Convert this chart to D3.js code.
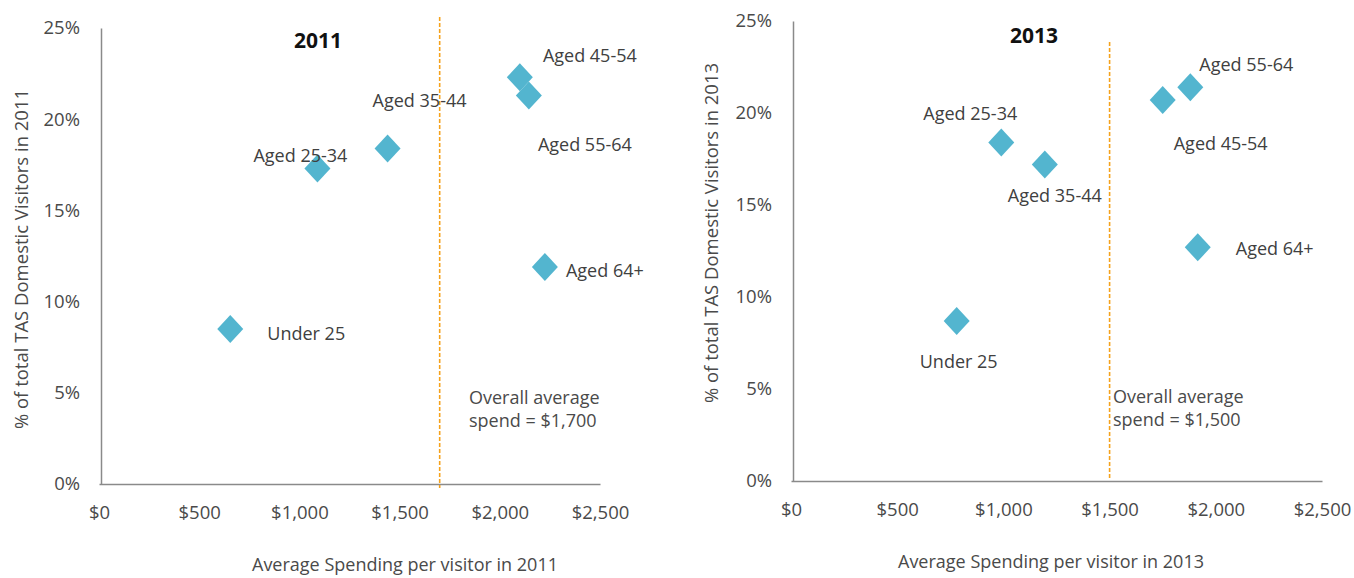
<!DOCTYPE html>
<html>
<head>
<meta charset="utf-8">
<script src="https://cdn.jsdelivr.net/npm/d3@7"></script>
<style>
  body { margin: 0; background: #fff; }
  svg text { font-family: "Open Sans", sans-serif; }
</style>
</head>
<body>
<svg id="chart" width="1354" height="578"></svg>
<script>
// Visitor segments (age groups)
const categories = ["Under 25", "Aged 25-34", "Aged 35-44", "Aged 45-54", "Aged 55-64", "Aged 64+"];

// 2011: average spend per visitor ($) and share of total TAS domestic visitors (%)
const spend2011 = [655, 1090, 1440, 2100, 2145, 2225];
const share2011 = [8.5, 17.3, 18.4, 22.3, 21.3, 11.9];
const average2011 = 1700;

// 2013
const spend2013 = [780, 990, 1195, 1750, 1880, 1915];
const share2013 = [8.7, 18.4, 17.2, 20.7, 21.4, 12.7];
const average2013 = 1500;

// Axis ticks
const xTickValues = [0, 500, 1000, 1500, 2000, 2500];
const xTickLabels = ["$0", "$500", "$1,000", "$1,500", "$2,000", "$2,500"];
const yTickValues = [0, 5, 10, 15, 20, 25];
const yTickLabels = ["0%", "5%", "10%", "15%", "20%", "25%"];

// Panel layouts (pixel frames and label placement around each marker)
const panels = [
  {
    year: "2011", spend: spend2011, share: share2011, average: average2011,
    x0: 99, x1: 600, y0: 484, y1: 28,
    titleX: 318, titleY: 40,
    yTitleX: 20, yTitleY: 259,
    xTitleX: 405, xTitleY: 564,
    avgTop: 17, avgBottom: 488, avgTextX: 469, avgTextY: 397,
    labelOffsets: [[76, 4], [-17, -13], [32, -48], [70, -22], [56, 49], [60, 3]]
  },
  {
    year: "2013", spend: spend2013, share: share2013, average: average2013,
    x0: 791, x1: 1322, y0: 481, y1: 21,
    titleX: 1034, titleY: 35,
    yTitleX: 710, yTitleY: 233,
    xTitleX: 1051, xTitleY: 561,
    avgTop: 42, avgBottom: 478, avgTextX: 1113, avgTextY: 396,
    labelOffsets: [[2, 40], [-31, -29], [10, 30], [58, 43], [56, -23], [77, 1]]
  }
];

const svg = d3.select("#chart");
const diamond = "M0,-14L13,0L0,14L-13,0Z";
const textColor = "#4a4a4a";

panels.forEach(p => {
  const x = d3.scaleLinear().domain([0, 2500]).range([p.x0, p.x1]);
  const y = d3.scaleLinear().domain([0, 25]).range([p.y0, p.y1]);
  const g = svg.append("g");

  // X axis
  const xAxis = d3.axisBottom(x)
    .tickValues(xTickValues)
    .tickFormat((d, i) => xTickLabels[i])
    .tickSize(0)
    .tickPadding(22);
  const gx = g.append("g").attr("transform", `translate(0,${p.y0})`).call(xAxis);
  gx.select(".domain").attr("stroke", "#8a8a8a").attr("stroke-width", 1.5);
  gx.selectAll("text").attr("fill", textColor).style("font-size", "18.5px");

  // Y axis
  const yAxis = d3.axisLeft(y)
    .tickValues(yTickValues)
    .tickFormat((d, i) => yTickLabels[i])
    .tickSize(0)
    .tickPadding(21);
  const gy = g.append("g").attr("transform", `translate(${x(0) + 2},0)`).call(yAxis);
  gy.select(".domain").attr("stroke", "#8a8a8a").attr("stroke-width", 1.5);
  gy.selectAll("text").attr("fill", textColor).style("font-size", "18.5px");

  // Overall average spend marker
  g.append("line")
    .attr("x1", x(p.average)).attr("x2", x(p.average))
    .attr("y1", p.avgTop).attr("y2", p.avgBottom)
    .attr("stroke", "#f5a21c").attr("stroke-width", 1.6)
    .attr("stroke-dasharray", "4,2");

  const avgText = g.append("text")
    .attr("x", p.avgTextX).attr("y", p.avgTextY)
    .attr("fill", textColor).style("font-size", "18px")
    .attr("dominant-baseline", "central");
  avgText.append("tspan").attr("x", p.avgTextX).attr("dy", 0).text("Overall average");
  avgText.append("tspan").attr("x", p.avgTextX).attr("dy", 23).text(`spend = ${d3.format("$,")(p.average)}`);

  // Panel title
  g.append("text")
    .attr("x", p.titleX).attr("y", p.titleY)
    .attr("text-anchor", "middle").attr("dominant-baseline", "central")
    .attr("fill", "#111").style("font-size", "21px").style("font-weight", "bold")
    .text(p.year);

  // Axis titles
  g.append("text")
    .attr("transform", `translate(${p.yTitleX},${p.yTitleY}) rotate(-90)`)
    .attr("text-anchor", "middle").attr("dominant-baseline", "central")
    .attr("fill", textColor).style("font-size", "18.5px")
    .text(`% of total TAS Domestic Visitors in ${p.year}`);

  g.append("text")
    .attr("x", p.xTitleX).attr("y", p.xTitleY)
    .attr("text-anchor", "middle").attr("dominant-baseline", "central")
    .attr("fill", textColor).style("font-size", "18px")
    .text(`Average Spending per visitor in ${p.year}`);

  // Points
  const data = categories.map((c, i) => ({ cat: c, spend: p.spend[i], share: p.share[i], off: p.labelOffsets[i] }));

  g.selectAll("path.pt").data(data).join("path")
    .attr("class", "pt")
    .attr("d", diamond)
    .attr("transform", d => `translate(${x(d.spend)},${y(d.share)})`)
    .attr("fill", "#53b5cf");

  g.selectAll("text.lbl").data(data).join("text")
    .attr("class", "lbl")
    .attr("x", d => x(d.spend) + d.off[0])
    .attr("y", d => y(d.share) + d.off[1])
    .attr("text-anchor", "middle").attr("dominant-baseline", "central")
    .attr("fill", "#404040").style("font-size", "18px")
    .text(d => d.cat);
});
</script>
</body>
</html>
